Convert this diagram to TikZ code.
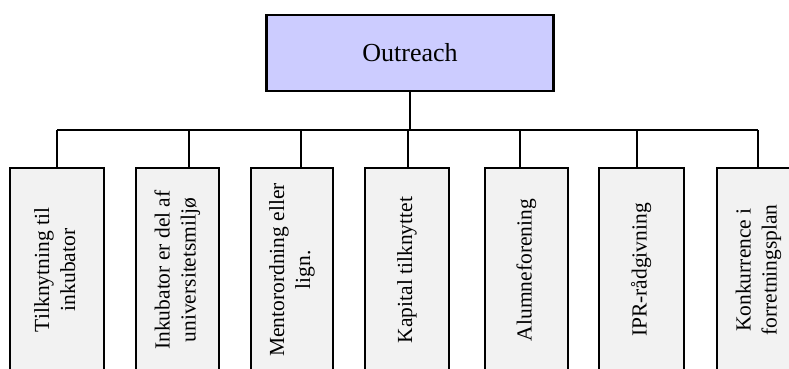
\documentclass[tikz,border=0pt]{standalone}
\usepackage{fontspec}
\setmainfont{Liberation Serif}
\usepackage{tikz}

\definecolor{topfill}{HTML}{CCCCFF}
\definecolor{subfill}{HTML}{F2F2F2}

\tikzset{
    topbox/.style={draw, line width=2.2pt, fill=topfill, minimum width=287pt, minimum height=76pt, font=\fontsize{26}{31}\selectfont},
    subbox/.style={draw, line width=2.2pt, fill=subfill, minimum height=204pt, inner sep=0pt, font=\fontsize{21.5}{26}\selectfont},
    link/.style={line width=2.2pt}
}

\begin{document}
\begin{tikzpicture}[x=1pt,y=-1pt]
        \useasboundingbox (0,0) rectangle (789,369);
        \clip (0,0) rectangle (789,369);
        \node[topbox] (outreach) at (410,53) {Outreach};
        \coordinate (busleft) at (57,130);
        \coordinate (busright) at (758,130);
        \draw[link] (busleft) -- (busright);
        \draw[link] (outreach.south) -- (outreach.south |- busleft);
        \foreach \n/\cx/\w/\sx/\txt in {
            1/57/94/57/{Tilknytning til\\inkubator},
            2/177.5/83/189/{Inkubator er del af\\universitetsmiljø},
            3/292/82/301/{Mentorordning eller\\lign.},
            4/407/84/408/{Kapital tilknyttet},
            5/526.5/83/520/{Alumneforening},
            6/641.5/85/637/{IPR-rådgivning},
            7/758.5/83/758/{Konkurrence i\\forretningsplan}}{
            \node[subbox, minimum width=\w pt] (b\n) at (\cx,270)
                {\rotatebox{90}{\begin{tabular}{@{}c@{}}\txt\end{tabular}}};
            \coordinate (j\n) at (\sx,130);
            \draw[link] (j\n) -- (j\n |- b\n.north);
        }
    \end{tikzpicture}
\end{document}
